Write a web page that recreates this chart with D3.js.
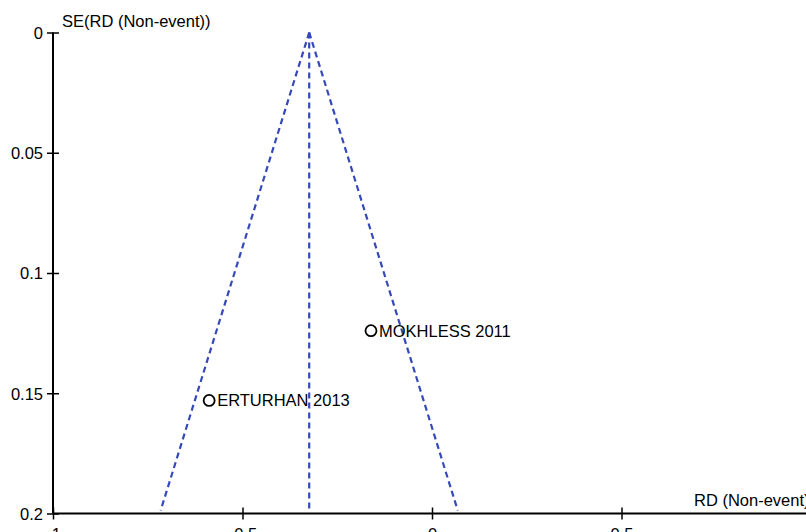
<!DOCTYPE html>
<html>
<head>
<meta charset="utf-8">
<script src="https://cdn.jsdelivr.net/npm/d3@7"></script>
<style>
  html, body { margin: 0; padding: 0; background: #fff; }
  svg { display: block; }
  text { font-family: "Liberation Sans", Arial, sans-serif; fill: #000; }
</style>
</head>
<body>
<svg id="chart" width="806" height="532"></svg>
<script>
// ---- data ----
const studies = ["MOKHLESS 2011", "ERTURHAN 2013"];
const rd = [-0.161, -0.588];
const se = [0.124, 0.153];
const pooledRD = -0.324;
const seMax = 0.2;
const xTicks = [-1, -0.5, 0, 0.5, 1];
const yTicks = [0, 0.05, 0.1, 0.15, 0.2];
const xTitle = "RD (Non-event)";
const yTitle = "SE(RD (Non-event))";

// ---- drawing ----
const svg = d3.select("#chart");
const x = d3.scaleLinear().domain([-1, 1]).range([53, 811]);
const y = d3.scaleLinear().domain([0, 0.2]).range([32.5, 513.5]);

const blue = "#3549b8";

// funnel lines
const funnel = [
  [[pooledRD, 0], [pooledRD - 1.96 * seMax, seMax]],
  [[pooledRD, 0], [pooledRD + 1.96 * seMax, seMax]],
  [[pooledRD, 0], [pooledRD, seMax]]
];
svg.selectAll("line.funnel").data(funnel).enter().append("line")
  .attr("class", "funnel")
  .attr("x1", d => x(d[0][0])).attr("y1", d => y(d[0][1]))
  .attr("x2", d => x(d[1][0])).attr("y2", d => y(d[1][1]) - 3)
  .attr("stroke", blue).attr("stroke-width", 2.2)
  .attr("stroke-dasharray", "6,4");

// y axis
const yAxis = svg.append("g").attr("transform", `translate(${x(-1)},0)`)
  .call(d3.axisLeft(y).tickValues(yTicks).tickFormat(d => String(d)).tickSize(6).tickPadding(4));
yAxis.select(".domain").attr("d", `M0,${y(0)}V${y(0.2)}`).attr("stroke", "#000").attr("stroke-width", 2);
yAxis.selectAll(".tick line").attr("x1", -6).attr("x2", 6).attr("stroke", "#000").attr("stroke-width", 1.5);
yAxis.selectAll(".tick text").attr("font-size", 16.5).attr("font-family", "Liberation Sans, Arial, sans-serif").attr("fill", "#000").attr("dy", "0.35em");

// x axis
const xAxis = svg.append("g").attr("transform", `translate(0,${y(0.2)})`)
  .call(d3.axisBottom(x).tickValues(xTicks).tickFormat(d => String(d)).tickSize(6).tickPadding(9));
xAxis.select(".domain").attr("d", `M${x(-1)},0H${x(1)}`).attr("stroke", "#000").attr("stroke-width", 2);
xAxis.selectAll(".tick line").attr("y1", -6).attr("y2", 6).attr("stroke", "#000").attr("stroke-width", 1.5);
xAxis.selectAll(".tick text").attr("font-size", 16.5).attr("font-family", "Liberation Sans, Arial, sans-serif").attr("fill", "#000");

// axis titles
svg.append("text").attr("x", x(-1) + 9).attr("y", y(0) - 6)
  .attr("font-size", 16.5).text(yTitle);
svg.append("text").attr("x", 694).attr("y", y(0.2) - 8)
  .attr("font-size", 16.5).text(xTitle);

// points
const pts = studies.map((s, i) => ({ name: s, rd: rd[i], se: se[i] }));
const g = svg.selectAll("g.pt").data(pts).enter().append("g").attr("class", "pt");
g.append("circle")
  .attr("cx", d => x(d.rd)).attr("cy", d => y(d.se)).attr("r", 5.5)
  .attr("fill", "none").attr("stroke", "#000").attr("stroke-width", 1.8);
g.append("text")
  .attr("x", d => x(d.rd) + 8).attr("y", d => y(d.se)).attr("dy", "0.36em")
  .attr("font-size", 16.5).text(d => d.name);
</script>
</body>
</html>
